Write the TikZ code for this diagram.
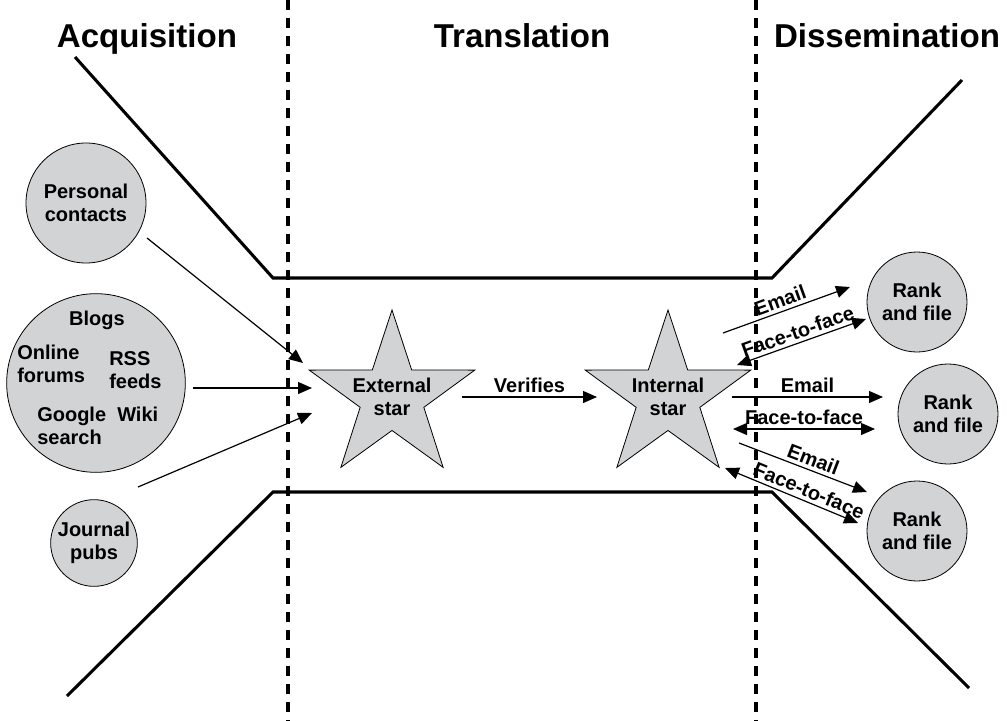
\documentclass[tikz,border=0pt]{standalone}
\usepackage{fontspec}
\setmainfont{Liberation Sans}
\usetikzlibrary{shapes.geometric,arrows.meta}
\definecolor{boxgrey}{RGB}{210,211,212}
\tikzset{
  blob/.style={circle,draw,fill=boxgrey,line width=0.6pt,inner sep=0pt,align=center,font=\txt},
  starnode/.style={star,star points=5,star point ratio=2.6,draw,fill=boxgrey,line width=0.6pt,minimum size=130.5pt,inner sep=0pt},
  word/.style={font=\txt,align=left,inner sep=0pt},
  title/.style={font=\bfseries\fontsize{24.8}{28}\selectfont,anchor=base},
  lbl/.style={font=\txt,inner sep=2.5pt},
  arr/.style={line width=0.9pt,-{Triangle[length=10.5pt,width=9pt]}},
  arrs/.style={line width=0.9pt,{Triangle[length=10.5pt,width=9pt]}-{Triangle[length=10.5pt,width=9pt]}},
  funnel/.style={line width=2.3pt,line join=miter},
  divider/.style={line width=2.6pt,dash pattern=on 7.5pt off 6pt}
}
\newcommand{\txt}{\bfseries\fontsize{15}{16.8}\selectfont}
\begin{document}
\begin{tikzpicture}[x=0.75pt,y=-0.75pt]
\useasboundingbox (0,0) rectangle (1007,721);
% stage dividers
\draw[divider] (288,0) -- (288,721);
\draw[divider] (756,0) -- (756,721);
% titles
\node[title] (tAcq) at (147,47) {Acquisition};
\node[title] (tTra) at (522,47) {Translation};
\node[title] (tDis) at (887,47) {Dissemination};
% funnel
\draw[funnel] (75,57) -- (273,278) -- (772,278) -- (962,80);
\draw[funnel] (67,696) -- (273,492) -- (772,492) -- (969,688);
% sources
\node[blob,minimum size=90pt] (pc) at (86,203) {Personal\\contacts};
\node[blob,minimum size=134pt] (web) at (96,383) {};
\node[word] (blogs) at (97,320) {Blogs};
\node[word,anchor=west] (forums) at (17,364) {Online\\forums};
\node[word,anchor=west] (rss) at (109,370) {RSS\\feeds};
\node[word,anchor=west] (google) at (37,426) {Google\\search};
\node[word,anchor=west] (wiki) at (117,414) {Wiki};
\node[blob,minimum size=65pt] (jp) at (94,543) {Journal\\pubs};
% stars
\node[starnode] (ext) at (392,397) {};
\node[word,align=center] (extTxt) at (ext) {External\\star};
\node[starnode] (int) at (668,397) {};
\node[word,align=center] (intTxt) at (int) {Internal\\star};
% rank and file
\node[blob,minimum size=75pt] (rf1) at (917,302) {Rank\\and file};
\node[blob,minimum size=75pt] (rf2) at (948,414) {Rank\\and file};
\node[blob,minimum size=75pt] (rf3) at (917,531) {Rank\\and file};
% arrow ends
\coordinate (pcA) at (147,238);
\coordinate (pcB) at (303,363);
\coordinate (webA) at (193,388);
\coordinate (webB) at (312,388);
\coordinate (jpA) at (138,487);
\coordinate (jpB) at (312,413);
\coordinate (vA) at (462,397);
\coordinate (vB) at (597,397);
\coordinate (e1a) at (723,333);
\coordinate (e1b) at (850,287);
\coordinate (f1a) at (737,365);
\coordinate (f1b) at (866,319);
\coordinate (e2a) at (732,397);
\coordinate (e2b) at (883,397);
\coordinate (f2a) at (733,429);
\coordinate (f2b) at (875,429);
\coordinate (e3a) at (739,443);
\coordinate (e3b) at (867,492);
\coordinate (f3a) at (725,468);
\coordinate (f3b) at (858,523);
% acquisition
\draw[arr] (pcA) -- (pcB);
\draw[arr] (webA) -- (webB);
\draw[arr] (jpA) -- (jpB);
% translation
\draw[arr] (vA) -- node[lbl,above] (verif) {Verifies} (vB);
% dissemination
\draw[arr] (e1a) -- node[lbl,sloped,above,pos=0.48] (em1) {Email} (e1b);
\draw[arrs] (f1a) -- node[lbl,sloped,above] (ff1) {Face-to-face} (f1b);
\draw[arr] (e2a) -- node[lbl,above] (em2) {Email} (e2b);
\draw[arrs] (f2a) -- node[lbl,above] (ff2) {Face-to-face} (f2b);
\draw[arr] (e3a) -- node[lbl,sloped,above,pos=0.55] (em3) {Email} (e3b);
\draw[arrs] (f3a) -- node[lbl,sloped,above,pos=0.6] (ff3) {Face-to-face} (f3b);
\end{tikzpicture}
\end{document}
